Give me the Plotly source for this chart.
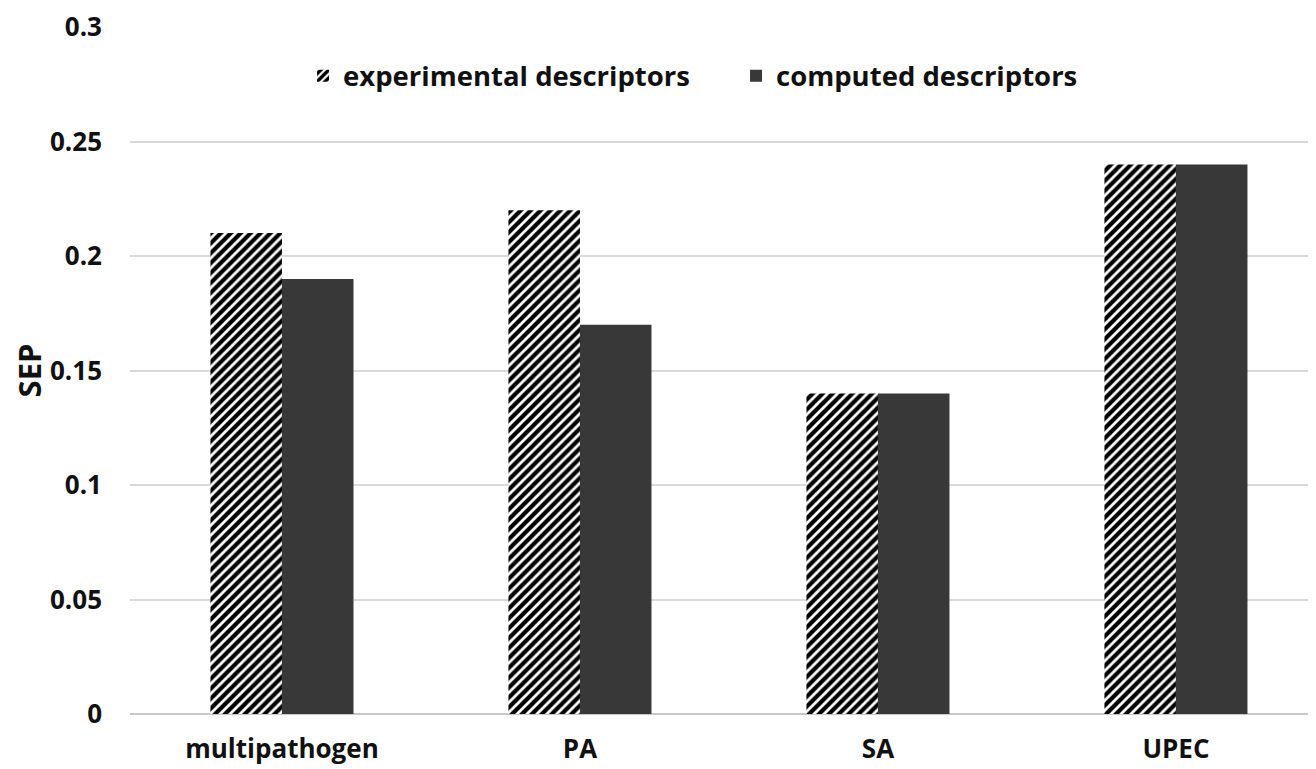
import plotly.graph_objects as go

categories = ["multipathogen", "PA", "SA", "UPEC"]
experimental = [0.21, 0.22, 0.14, 0.24]
computed = [0.19, 0.17, 0.14, 0.24]
y_ticks = [0, 0.05, 0.1, 0.15, 0.2, 0.25, 0.3]
y_ticktext = ["0", "0.05", "0.1", "0.15", "0.2", "0.25", "0.3"]

FONT = "Open Sans"

fig = go.Figure()
fig.add_trace(go.Bar(
    x=categories, y=experimental, name="experimental descriptors",
    marker=dict(color="white", line=dict(width=0),
                pattern=dict(shape="/", fgcolor="#000000", bgcolor="white",
                             fgopacity=1, size=7, solidity=0.6)),
))
fig.add_trace(go.Bar(
    x=categories, y=computed, name="computed descriptors",
    marker=dict(color="#383838", line=dict(width=0)),
))

fig.update_layout(
    width=1308, height=761,
    margin=dict(l=122, r=0, t=19, b=55),
    paper_bgcolor="white", plot_bgcolor="white",
    barmode="group", bargap=0.52, bargroupgap=0,
    font=dict(family=FONT, size=22, color="#111111"),
    legend=dict(orientation="h", x=0.511, xanchor="center", y=0.929, yanchor="middle",
                font=dict(family=FONT, size=27.5, color="#111111", weight="bold"),
                itemwidth=30, entrywidth=388, traceorder="normal",
                bgcolor="rgba(0,0,0,0)"),
    xaxis=dict(range=[-0.51, 3.47], showgrid=False, showline=False, ticks="",
               automargin=False,
               tickfont=dict(family=FONT, size=26, weight="bold"), ticklabelstandoff=17),
    yaxis=dict(range=[0, 0.3], tickvals=y_ticks, ticktext=y_ticktext,
               automargin=False,
               showgrid=True, gridcolor="#d9d9d9", gridwidth=1.5,
               zeroline=True, zerolinecolor="#c8c8c8", zerolinewidth=2,
               showline=False, ticks="", ticklabelstandoff=27,
               tickfont=dict(family=FONT, size=26, weight="bold"),
               title=dict(text="SEP", standoff=16,
                          font=dict(family=FONT, size=31, weight="bold"))),
)

fig.write_html("out.html")
